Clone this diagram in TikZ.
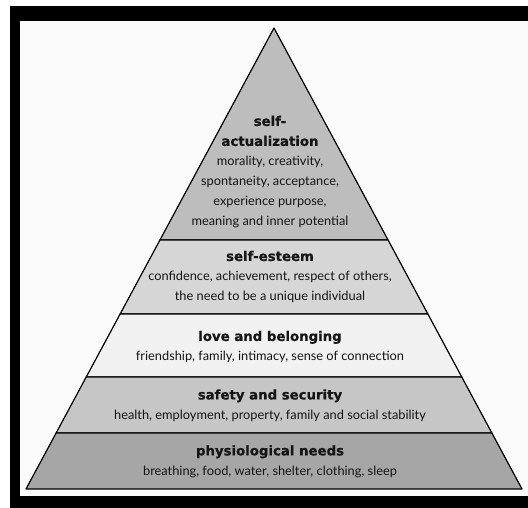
\documentclass[tikz,border=0pt]{standalone}
\usepackage{fontspec}
\setmainfont{Lato}
\newfontfamily\headfont{DejaVu Sans}[BoldFeatures={FakeBold=0.7}]
\usetikzlibrary{calc}
\definecolor{cTop}{HTML}{BDBDBD}
\definecolor{cEsteem}{HTML}{D6D6D6}
\definecolor{cLove}{HTML}{F1F1F1}
\definecolor{cSafety}{HTML}{C6C6C6}
\definecolor{cPhys}{HTML}{A6A6A6}
\definecolor{cText}{HTML}{151515}
\tikzset{
  band/.style={draw=black, line width=1.2pt, line join=round},
  label/.style={align=center, text=cText, inner sep=0pt,
    font=\fontsize{12.8}{20}\selectfont},
}
\newcommand{\hd}[1]{{\headfont\bfseries\fontsize{13.3}{20}\selectfont #1}}
\begin{document}
\begin{tikzpicture}[x=1pt,y=1pt]
\useasboundingbox (0,0) rectangle (528,508);
\fill[white] (0,0) rectangle (528,508);
\fill[black] (10,0) rectangle (528,502);
\fill[white!98!black] (20,12) rectangle (528,487);
% pyramid corners
\coordinate (A) at (274,480);
\coordinate (L) at (26,19);
\coordinate (R) at (522,19);
\coordinate (L1) at ($(A)!0.4599!(L)$);
\coordinate (R1) at ($(A)!0.4599!(R)$);
\coordinate (L2) at ($(A)!0.6204!(L)$);
\coordinate (R2) at ($(A)!0.6204!(R)$);
\coordinate (L3) at ($(A)!0.7570!(L)$);
\coordinate (R3) at ($(A)!0.7570!(R)$);
\coordinate (L4) at ($(A)!0.8785!(L)$);
\coordinate (R4) at ($(A)!0.8785!(R)$);
% bands
\filldraw[band, fill=cTop] (A) -- (R1) -- (L1) -- cycle;
\filldraw[band, fill=cEsteem] (L1) -- (R1) -- (R2) -- (L2) -- cycle;
\filldraw[band, fill=cLove] (L2) -- (R2) -- (R3) -- (L3) -- cycle;
\filldraw[band, fill=cSafety] (L3) -- (R3) -- (R4) -- (L4) -- cycle;
\filldraw[band, fill=cPhys] (L4) -- (R4) -- (R) -- (L) -- cycle;
% labels
\node[label] (t1) at (270,336) {\hd{self-}\\\hd{actualization}\\morality, creativity,\\spontaneity, acceptance,\\experience purpose,\\meaning and inner potential};
\node[label] (t2) at (270,231) {\hd{self-esteem}\\confidence, achievement, respect of others,\\the need to be a unique individual};
\node[label] (t3) at (270,161) {\hd{love and belonging}\\friendship, family, intimacy, sense of connection};
\node[label] (t4) at (270,102.5) {\hd{safety and security}\\health, employment, property, family and social stability};
\node[label] (t5) at (270,46.5) {\hd{physiological needs}\\breathing, food, water, shelter, clothing, sleep};
\end{tikzpicture}
\end{document}
